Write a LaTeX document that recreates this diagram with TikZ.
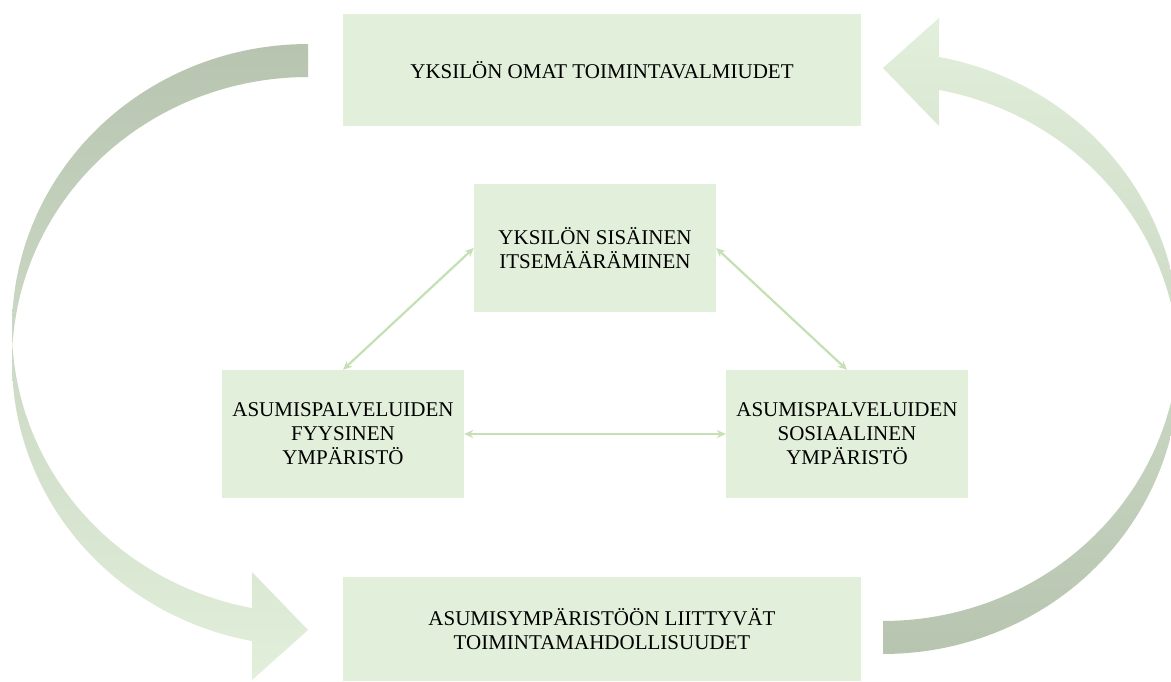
\documentclass[tikz,border=0pt]{standalone}
\usepackage{fontspec}
\setmainfont{Liberation Serif}
\usetikzlibrary{arrows.meta}
\definecolor{boxfill}{HTML}{E2EFDA}
\definecolor{conn}{HTML}{C5E0B4}
\definecolor{darkarrow}{HTML}{B7C4AF}
\begin{document}
\begin{tikzpicture}[x=1pt,y=-1pt,
  box/.style={fill=boxfill, inner sep=0pt, align=center, font=\fontsize{21}{24}\selectfont},
  link/.style={draw=conn, line width=2.2pt, {Stealth[length=9pt,width=8pt]}-{Stealth[length=9pt,width=8pt]}}]
\clip (0,0) rectangle (1171,681);
\fill[white] (0,0) rectangle (1171,681);
% left curved arrow (dark at top, light at bottom)
\shade[top color=darkarrow, middle color=darkarrow!55!boxfill, bottom color=boxfill]
  (308,44)
  -- plot[domain=270:176.7, samples=60] ({308+296*cos(\x)},{328.6+284.6*sin(\x)})
  -- plot[domain=183.3:100.9, samples=60] ({308+296*cos(\x)},{361.6+284.6*sin(\x)})
  -- (252,680) -- (308,630) -- (252,572)
  -- plot[domain=100.9:176.7, samples=60] ({308+296*cos(\x)},{328.6+284.6*sin(\x)})
  -- plot[domain=183.3:270, samples=60] ({308+296*cos(\x)},{361.6+284.6*sin(\x)})
  -- cycle;
% right curved arrow (light at top, dark at bottom)
\shade[top color=boxfill, middle color=darkarrow!55!boxfill, bottom color=darkarrow]
  (883,654)
  -- plot[domain=270:176.7, samples=60] ({883-296*cos(\x)},{369.4-284.6*sin(\x)})
  -- plot[domain=183.3:100.9, samples=60] ({883-296*cos(\x)},{336.4-284.6*sin(\x)})
  -- (939,18) -- (883,68) -- (939,126)
  -- plot[domain=100.9:176.7, samples=60] ({883-296*cos(\x)},{369.4-284.6*sin(\x)})
  -- plot[domain=183.3:270, samples=60] ({883-296*cos(\x)},{336.4-284.6*sin(\x)})
  -- cycle;
% boxes
\node[box, minimum width=518pt, minimum height=112pt] (T) at (602,70) {YKSILÖN OMAT TOIMINTAVALMIUDET};
\node[box, minimum width=242pt, minimum height=128pt] (C) at (595,248) {YKSILÖN SISÄINEN\\ITSEMÄÄRÄMINEN};
\node[box, minimum width=242pt, minimum height=128pt] (L) at (343,434) {ASUMISPALVELUIDEN\\FYYSINEN\\YMPÄRISTÖ};
\node[box, minimum width=242pt, minimum height=128pt] (R) at (847,434) {ASUMISPALVELUIDEN\\SOSIAALINEN\\YMPÄRISTÖ};
\node[box, minimum width=518pt, minimum height=104pt] (B) at (602,629) {ASUMISYMPÄRISTÖÖN LIITTYVÄT\\TOIMINTAMAHDOLLISUUDET};
% connectors
\draw[link] (C.west) -- (L.north);
\draw[link] (C.east) -- (R.north);
\draw[link] (L.east) -- (R.west);
\end{tikzpicture}
\end{document}
